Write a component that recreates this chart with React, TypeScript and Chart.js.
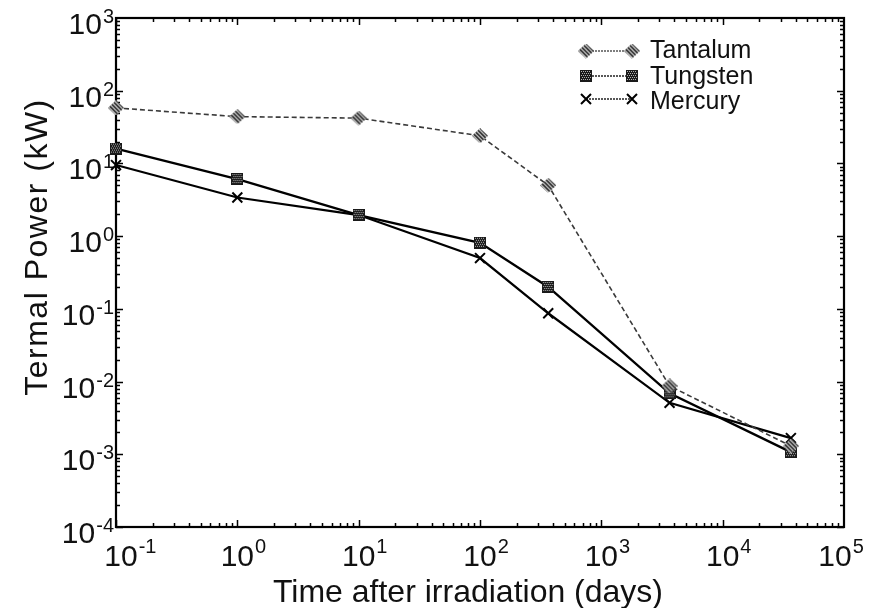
import { useEffect, useRef } from 'react';
import { Chart, registerables } from 'chart.js';

Chart.register(...registerables);

const days = [0.1, 1, 10, 100, 365, 3650, 36500];
const tantalum = [58, 44, 42, 24, 5.0, 0.0087, 0.0013];
const tungsten = [16, 6.1, 1.95, 0.81, 0.2, 0.0069, 0.00107];
const mercury = [9.5, 3.4, 1.95, 0.5, 0.087, 0.0051, 0.00167];
const seriesNames = ['Tantalum', 'Tungsten', 'Mercury'];
const xDecades = [-1, 0, 1, 2, 3, 4, 5];
const yDecades = [-4, -3, -2, -1, 0, 1, 2, 3];
const xTitle = 'Time after irradiation (days)';
const yTitle = 'Termal Power (kW)';

const FONT = '"Liberation Sans", Arial, Helvetica, sans-serif';

function makeTantalumMarker(): HTMLCanvasElement {
  const c = document.createElement('canvas');
  c.width = 16;
  c.height = 15;
  const g = c.getContext('2d')!;
  g.save();
  g.beginPath();
  g.moveTo(8, 0);
  g.lineTo(16, 7.5);
  g.lineTo(8, 15);
  g.lineTo(0, 7.5);
  g.closePath();
  g.clip();
  g.fillStyle = '#ddd';
  g.fillRect(0, 0, 16, 15);
  g.strokeStyle = '#222';
  g.lineWidth = 1.6;
  for (let i = -16; i < 24; i += 4) {
    g.beginPath();
    g.moveTo(i, 0);
    g.lineTo(i + 15, 15);
    g.stroke();
  }
  g.restore();
  return c;
}

function makeTungstenMarker(): HTMLCanvasElement {
  const c = document.createElement('canvas');
  c.width = 12;
  c.height = 12;
  const g = c.getContext('2d')!;
  g.fillStyle = '#1a1a1a';
  g.fillRect(0, 0, 12, 12);
  g.fillStyle = '#b0b0b0';
  for (let yy = 1; yy < 11; yy += 2) {
    for (let xx = 1 + ((yy >> 1) % 2); xx < 11; xx += 2) {
      g.fillRect(xx, yy, 1, 1);
    }
  }
  return c;
}

function drawPow(
  ctx: CanvasRenderingContext2D,
  exp: number,
  x: number,
  baseY: number,
  supY: number,
  mode: 'center' | 'right'
) {
  const sup = exp < 0 ? '-' + Math.abs(exp) : String(exp);
  ctx.font = `30px ${FONT}`;
  const tenW = ctx.measureText('10').width;
  ctx.font = `20px ${FONT}`;
  const supW = ctx.measureText(sup).width;
  const x0 = mode === 'center' ? x - tenW / 2 : x - supW - tenW - 1;
  ctx.textAlign = 'left';
  ctx.textBaseline = 'alphabetic';
  ctx.fillStyle = '#111';
  ctx.font = `30px ${FONT}`;
  ctx.fillText('10', x0, baseY);
  ctx.font = `20px ${FONT}`;
  ctx.fillText(sup, x0 + tenW + 1, supY);
}

export default function App() {
  const ref = useRef<HTMLCanvasElement>(null);

  useEffect(() => {
    const canvas = ref.current!;
    const tanMarker = makeTantalumMarker();
    const tunMarker = makeTungstenMarker();

    const decor = {
      id: 'decor',
      beforeDatasetsDraw(chart: any) {
        const ctx: CanvasRenderingContext2D = chart.ctx;
        const a = chart.chartArea;
        const xs = chart.scales.x;
        const ys = chart.scales.y;
        ctx.save();
        ctx.strokeStyle = '#000';
        ctx.lineWidth = 1.5;
        for (let d = -1; d < 5; d++) {
          for (let m = 1; m < 10; m++) {
            const px = Math.round(xs.getPixelForValue(m * Math.pow(10, d))) + 0.5;
            const len = m === 1 ? 7 : 4;
            ctx.beginPath();
            ctx.moveTo(px, a.bottom);
            ctx.lineTo(px, a.bottom - len);
            ctx.moveTo(px, a.top);
            ctx.lineTo(px, a.top + len);
            ctx.stroke();
          }
        }
        for (let d = -4; d < 3; d++) {
          for (let m = 1; m < 10; m++) {
            const py = Math.round(ys.getPixelForValue(m * Math.pow(10, d))) + 0.5;
            const len = m === 1 ? 7 : 4;
            ctx.beginPath();
            ctx.moveTo(a.left, py);
            ctx.lineTo(a.left + len, py);
            ctx.moveTo(a.right, py);
            ctx.lineTo(a.right - len, py);
            ctx.stroke();
          }
        }
        ctx.lineWidth = 2.2;
        ctx.strokeRect(a.left, a.top, a.right - a.left, a.bottom - a.top);

        xDecades.forEach((e, i) => {
          let px = xs.getPixelForValue(Math.pow(10, e));
          if (i === 0) px += 5;
          if (i === xDecades.length - 1) px -= 9;
          drawPow(ctx, e, px, a.bottom + 39, a.bottom + 26, 'center');
        });
        yDecades.forEach((e) => {
          const py = ys.getPixelForValue(Math.pow(10, e));
          drawPow(ctx, e, a.left - 2, py + 16, py + 5, 'right');
        });

        ctx.fillStyle = '#111';
        ctx.font = `32px ${FONT}`;
        ctx.textAlign = 'center';
        ctx.textBaseline = 'alphabetic';
        ctx.fillText(xTitle, 468, 602);
        ctx.save();
        ctx.translate(47, 247);
        ctx.rotate(-Math.PI / 2);
        (ctx as any).letterSpacing = '1.5px';
        ctx.fillText(yTitle, 0, 0);
        ctx.restore();

        const rows = [51, 76, 99];
        const baselines = [58, 84, 109];
        const lx0 = 586;
        const lx1 = 632;
        rows.forEach((ry, i) => {
          ctx.save();
          ctx.beginPath();
          ctx.strokeStyle = i === 0 ? '#555' : '#222';
          ctx.lineWidth = 1.3;
          ctx.setLineDash([2, 1]);
          ctx.moveTo(lx0, ry);
          ctx.lineTo(lx1, ry);
          ctx.stroke();
          ctx.restore();
          if (i === 0) {
            ctx.drawImage(tanMarker, lx0 - 8, ry - 7.5);
            ctx.drawImage(tanMarker, lx1 - 8, ry - 7.5);
          } else if (i === 1) {
            ctx.drawImage(tunMarker, lx0 - 6, ry - 6);
            ctx.drawImage(tunMarker, lx1 - 6, ry - 6);
          } else {
            ctx.strokeStyle = '#000';
            ctx.lineWidth = 2;
            [lx0, lx1].forEach((cx) => {
              ctx.beginPath();
              ctx.moveTo(cx - 5, ry - 5);
              ctx.lineTo(cx + 5, ry + 5);
              ctx.moveTo(cx - 5, ry + 5);
              ctx.lineTo(cx + 5, ry - 5);
              ctx.stroke();
            });
          }
          ctx.fillStyle = '#111';
          ctx.font = `25px ${FONT}`;
          ctx.textAlign = 'left';
          ctx.fillText(seriesNames[i], 650, baselines[i]);
        });
        ctx.restore();
      },
    };

    const chart = new Chart(canvas, {
      type: 'line',
      data: {
        datasets: [
          {
            label: seriesNames[0],
            data: days.map((d, i) => ({ x: d, y: tantalum[i] })),
            borderColor: '#3a3a3a',
            borderWidth: 1.6,
            borderDash: [5, 3],
            pointStyle: tanMarker as any,
            pointRadius: 7,
            clip: false as any,
          },
          {
            label: seriesNames[1],
            data: days.map((d, i) => ({ x: d, y: tungsten[i] })),
            borderColor: '#000',
            borderWidth: 2.4,
            pointStyle: tunMarker as any,
            pointRadius: 6,
            clip: false as any,
          },
          {
            label: seriesNames[2],
            data: days.map((d, i) => ({ x: d, y: mercury[i] })),
            borderColor: '#000',
            borderWidth: 2.2,
            pointStyle: 'crossRot',
            pointRadius: 7,
            pointBorderColor: '#000',
            pointBorderWidth: 2,
            clip: false as any,
          },
        ],
      },
      options: {
        animation: false,
        responsive: false,
        events: [],
        layout: { padding: { left: 116, top: 18, right: 35, bottom: 81 } },
        plugins: { legend: { display: false }, tooltip: { enabled: false } },
        scales: {
          x: { type: 'logarithmic', min: 0.1, max: 1e5, display: false },
          y: { type: 'logarithmic', min: 1e-4, max: 1e3, display: false },
        },
      },
      plugins: [decor],
    });
    return () => chart.destroy();
  }, []);

  return (
    <canvas
      ref={ref}
      width={879}
      height={608}
      style={{ position: 'fixed', left: 0, top: 0, width: 879, height: 608, background: '#fff' }}
    />
  );
}
